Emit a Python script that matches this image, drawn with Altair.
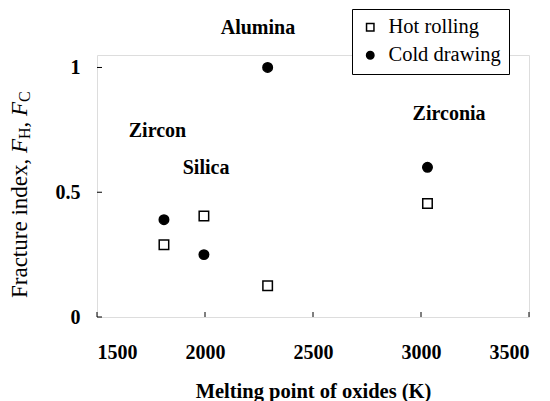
import altair as alt
import pandas as pd

# ---- data ----
oxides = ["Zircon", "Silica", "Alumina", "Zirconia"]
melting_k = [1810, 1995, 2290, 3030]
hot_rolling = [0.29, 0.405, 0.125, 0.455]
cold_drawing = [0.39, 0.25, 1.0, 0.60]

# annotation anchors (data units)
label_x = [1780, 2005, 2245, 3130]
label_y = [0.745, 0.597, 1.158, 0.814]

x_ticks = [1500, 2000, 2500, 3000, 3500]
y_ticks = [0, 0.5, 1]
methods = ["Hot rolling", "Cold drawing"]

FONT = "Liberation Serif"
W, H = 432, 262

pts = pd.DataFrame({
    "melting": melting_k * 2,
    "value": hot_rolling + cold_drawing,
    "method": [methods[0]] * len(oxides) + [methods[1]] * len(oxides),
})
labels = pd.DataFrame({"melting": label_x, "value": label_y, "oxide": oxides})
xt = pd.DataFrame({"melting": x_ticks})
yt = pd.DataFrame({"value": y_ticks})

xscale = alt.Scale(domain=[1500, 3500], nice=False, zero=False)
yscale = alt.Scale(domain=[0, 1.05], nice=False)

leg = dict(
    title=None, orient="none", legendX=255, legendY=-46,
    fillColor="white", strokeColor="black",
    padding=8, labelFont=FONT, labelFontSize=20.5, labelColor="black",
    symbolSize=55, symbolStrokeWidth=1.5,
    rowPadding=7, labelOffset=8,
)

points = alt.Chart(pts).mark_point(filled=True, strokeWidth=1.5, size=90, opacity=1).encode(
    x=alt.X("melting:Q", scale=xscale, axis=alt.Axis(
        values=x_ticks, format="d", ticks=False, tickSize=0, domain=False, grid=False,
        labelFont=FONT, labelFontSize=20, labelFontWeight="bold", labelColor="black",
        labelPadding=25, title="Melting point of oxides (K)",
        titleFont=FONT, titleFontSize=20.5, titleFontWeight="bold", titleColor="black",
        titleBaseline="alphabetic", titleY=80)),
    y=alt.Y("value:Q", scale=yscale, axis=alt.Axis(
        values=y_ticks, format="~g", ticks=False, tickSize=0, domain=False, grid=False,
        labelFont=FONT, labelFontSize=20, labelFontWeight="bold", labelColor="black",
        labelPadding=17), title=None),
    shape=alt.Shape("method:N", scale=alt.Scale(domain=methods, range=["square", "circle"]), legend=alt.Legend(**leg)),
    fill=alt.Fill("method:N", scale=alt.Scale(domain=methods, range=["white", "black"]), legend=alt.Legend(**leg)),
    stroke=alt.Stroke("method:N", scale=alt.Scale(domain=methods, range=["black", "black"]), legend=alt.Legend(**leg)),
)

ann = alt.Chart(labels).mark_text(font=FONT, fontSize=20, fontWeight="bold", color="black").encode(
    x=alt.X("melting:Q", scale=xscale), y=alt.Y("value:Q", scale=yscale), text="oxide:N")

xticks = alt.Chart(xt).mark_rule(color="black", strokeWidth=1).encode(
    x=alt.X("melting:Q", scale=xscale), y=alt.value(H), y2=alt.value(H - 5))
yticks = alt.Chart(yt).mark_rule(color="black", strokeWidth=1).encode(
    y=alt.Y("value:Q", scale=yscale), x=alt.value(0), x2=alt.value(5))

one = pd.DataFrame({"a": [0]})
TX = 27 - 97
def piece(txt, y, size=23, style="normal", dx=0):
    return alt.Chart(one).mark_text(text=txt, font=FONT, fontSize=size, fontStyle=style,
                                    angle=270, align="left", baseline="alphabetic", color="black").encode(
        x=alt.value(TX + dx), y=alt.value(y - 55))

ytitle = [
    piece("Fracture index, ", 298),
    piece("F", 153, style="italic"),
    piece("H", 139, size=16, dx=3),
    piece(", ", 127.5),
    piece("F", 116, style="italic"),
    piece("C", 102, size=16, dx=3),
]

chart = alt.layer(points, ann, xticks, yticks, *ytitle).properties(
    width=W, height=H, autosize="none",
    padding={"left": 97, "top": 55, "right": 21, "bottom": 84},
).configure_view(stroke="black", strokeWidth=1.2).configure(background="white", font=FONT)

chart.save("out.html", embed_options={"renderer": "svg", "actions": False})
